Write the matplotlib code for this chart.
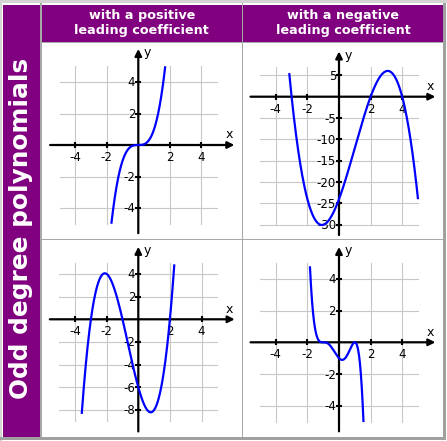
import numpy as np
import matplotlib
matplotlib.use("Agg")
import matplotlib.pyplot as plt
from matplotlib.patches import Rectangle

W, H = 447, 441

# headers
col_titles = ["with a positive\nleading coefficient", "with a negative\nleading coefficient"]
row_title = "Odd degree polynomials"

# curves: roots, leading coefficient and x-range
tl_roots = [0, 0, 0]
tl_lead = 1
tl_xrange = [-1.71, 1.71]

tr_roots = [-3, 2, 4]
tr_lead = -1
tr_xrange = [-3.15, 5.0]

bl_roots = [-3, -1, 2]
bl_lead = 1
bl_xrange = [-3.58, 2.28]

br_roots = [-1, -1, -1, 1, 1]
br_lead = -1
br_xrange = [-1.84, 1.55]

# tick labels
tl_xticks = [-4, -2, 2, 4]
tl_yticks = [-4, -2, 2, 4]
tr_xticks = [-4, -2, 2, 4]
tr_yticks = [-30, -25, -20, -15, -10, -5, 5]
bl_xticks = [-4, -2, 2, 4]
bl_yticks = [-8, -6, -4, -2, 2, 4]
br_xticks = [-4, -2, 2, 4]
br_yticks = [-4, -2, 2, 4]

purple = "#800080"
border = "#a8a8a8"
grid_c = "#c8c8c8"
blue = "#0000ff"

fig = plt.figure(figsize=(W / 100, H / 100), dpi=100)
fig.patch.set_facecolor("white")

# background table drawn in pixel coordinates
bg = fig.add_axes([0, 0, 1, 1])
bg.set_xlim(0, W)
bg.set_ylim(H, 0)
bg.axis("off")

def box(x0, y0, x1, y1, color):
    bg.add_patch(Rectangle((x0, y0), x1 - x0, y1 - y0, facecolor=color, edgecolor="none"))

box(0, 0, 447, 3, "#d4d4d4")
box(0, 0, 2, 441, "#d4d4d4")
box(0, 436.5, 445.5, 439.5, "#a0a0a0")
box(442.8, 3, 445.5, 439.5, "#a0a0a0")
box(3, 5, 40, 436.5, purple)
box(42, 5, 241.5, 41.5, purple)
box(243, 5, 443, 41.5, purple)
box(40.3, 3, 41.6, 436.5, border)
box(241.6, 3, 242.9, 436.5, border)
box(40.3, 41.8, 443, 43, border)
box(40.3, 239, 443, 240.3, border)

for i, t in enumerate(col_titles):
    cx = [141.8, 343][i]
    bg.text(cx, 23, t, ha="center", va="center", color="white", fontsize=9.2,
            fontweight="bold", linespacing=1.15)
bg.text(21.5, 228, row_title, rotation=90, ha="center", va="center", color="white",
        fontsize=17.8, fontweight="bold")

panels = [
    dict(roots=tl_roots, lead=tl_lead, xr=tl_xrange, xt=tl_xticks, yt=tl_yticks,
         cell=(42, 43, 241, 238), org=(138.3, 145.0), sc=(15.75, 15.75),
         gy=(-5, 5), ay=(-5.6, 6.1)),
    dict(roots=tr_roots, lead=tr_lead, xr=tr_xrange, xt=tr_xticks, yt=tr_yticks,
         cell=(243, 43, 443, 238), org=(339.0, 96.7), sc=(15.8, 4.27),
         gy=(-30, 7), ay=(-32.4, 10.6)),
    dict(roots=bl_roots, lead=bl_lead, xr=bl_xrange, xt=bl_xticks, yt=bl_yticks,
         cell=(42, 241, 241, 436), org=(138.3, 319.3), sc=(15.8, 11.33),
         gy=(-9, 5), ay=(-9.9, 6.4)),
    dict(roots=br_roots, lead=br_lead, xr=br_xrange, xt=br_xticks, yt=br_yticks,
         cell=(243, 241, 443, 436), org=(339.0, 342.3), sc=(15.8, 15.9),
         gy=(-5, 5), ay=(-5.6, 6.0)),
]

arrow = dict(arrowstyle="-|>", color="black", lw=1.6, mutation_scale=10, shrinkA=0, shrinkB=0)

for p in panels:
    l, t, r, b = p["cell"]
    ax = fig.add_axes([l / W, 1 - b / H, (r - l) / W, (b - t) / H])
    ax.patch.set_alpha(0)
    ox, oy = p["org"]
    sx, sy = p["sc"]
    ax.set_xlim((l - ox) / sx, (r - ox) / sx)
    ax.set_ylim((oy - b) / sy, (oy - t) / sy)
    ax.axis("off")

    # grid
    g0, g1 = p["gy"]
    for xv in p["xt"]:
        ax.plot([xv, xv], [g0, g1], color=grid_c, lw=0.8, zorder=1)
    for yv in p["yt"]:
        ax.plot([-5, 5], [yv, yv], color=grid_c, lw=0.8, zorder=1)

    # axes with arrows
    a0, a1 = p["ay"]
    ax.annotate("", xy=(6.1, 0), xytext=(-5.6, 0), arrowprops=arrow, zorder=3)
    ax.annotate("", xy=(0, a1), xytext=(0, a0), arrowprops=arrow, zorder=3)
    ax.plot(p["xt"], [0] * len(p["xt"]), ls="none", marker="|", ms=4, mew=1.5,
            color="black", zorder=3)
    ax.plot([0] * len(p["yt"]), p["yt"], ls="none", marker="_", ms=4, mew=1.5,
            color="black", zorder=3)

    for xv in p["xt"]:
        ax.annotate(str(xv), xy=(xv, 0), xytext=(0, -6), textcoords="offset pixels",
                    ha="center", va="top", fontsize=8.5, color="black", zorder=2)
    for yv in p["yt"]:
        ax.annotate(str(yv), xy=(0, yv), xytext=(-3, -1), textcoords="offset pixels",
                    ha="right", va="center", fontsize=8.5, color="black", zorder=2)
    ax.annotate("x", xy=(6.1, 0), xytext=(-5, 10), textcoords="offset pixels",
                ha="center", va="center", fontsize=9, color="black")
    ax.annotate("y", xy=(0, a1), xytext=(9, -4), textcoords="offset pixels",
                ha="center", va="center", fontsize=9, color="black")

    # curve
    xs = np.linspace(p["xr"][0], p["xr"][1], 400)
    ys = p["lead"] * np.polyval(np.poly(p["roots"]), xs)
    ax.plot(xs, ys, color=blue, lw=1.6, zorder=4, solid_capstyle="butt")

fig.savefig("out.png", dpi=100)
